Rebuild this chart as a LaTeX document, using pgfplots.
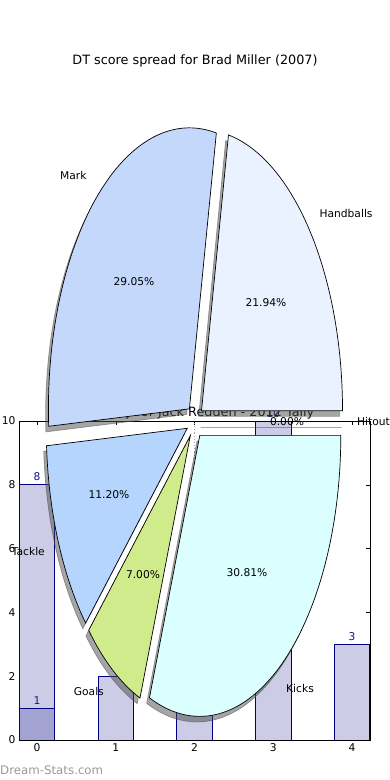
\documentclass[border=0pt]{standalone}
\usepackage{pgfplots}
\pgfplotsset{compat=1.18}
\usepackage{fontspec}
\setmainfont{DejaVu Sans}
\definecolor{cHand}{HTML}{EBF2FF}
\definecolor{cMark}{HTML}{C4D8FC}
\definecolor{cTack}{HTML}{B5D5FF}
\definecolor{cGoal}{HTML}{D0EB8C}
\definecolor{cKick}{HTML}{DBFFFF}
\definecolor{barfill}{RGB}{204,204,230}
\definecolor{bardark}{RGB}{163,163,209}
\definecolor{baredge}{RGB}{0,0,128}
\definecolor{barlabel}{RGB}{20,20,140}
\newcommand{\lfont}{\fontsize{10.7bp}{12bp}\selectfont}
\newcommand{\tfont}{\fontsize{12.8bp}{14bp}\selectfont}
\newcommand{\wfont}{\fontsize{11.8bp}{13bp}\selectfont}
% #1 cumulative start (%), #2 share (%), #3 path options, #4 shift
\newcommand{\drawslice}[4]{%
  \pgfmathsetmacro\sa{3.6*(#1)}%
  \pgfmathsetmacro\ea{3.6*(#1+#2)}%
  \pgfmathsetmacro\ma{(\sa+\ea)/2}%
  \pgfmathsetmacro\cx{195+8.46*cos(\ma)}%
  \pgfmathsetmacro\cy{358.5+16.86*sin(\ma)}%
  \path[#3] ([shift={#4}]axis cs:\cx,\cy) -- ++(\sa:141bp and 281bp)
     arc[start angle=\sa, end angle=\ea, x radius=141bp, y radius=281bp] -- cycle;
}
\begin{document}
\begin{tikzpicture}
\useasboundingbox (0,0) rectangle (390bp,780bp);
\begin{axis}[
  at={(19bp,40bp)}, anchor=south west,
  width=351bp, height=319bp, scale only axis,
  xmin=-0.23, xmax=4.23, ymin=0, ymax=10,
  ybar, bar shift=0pt, bar width=0.45,
  xtick={0,1,2,3,4}, ytick={0,2,4,6,8,10},
  tick align=inside, major tick length=4bp,
  tick style={black, line width=0.5bp},
  xtick pos=both, ytick pos=both,
  axis line style={line width=0.8bp},
  tick label style={font=\lfont},
  /pgf/number format/assume math mode=true,
  title={Stat tally for Jack Redden - 2012 Tally},
  every axis title/.style={at={(0.5,1)}, anchor=center, yshift=8bp, font=\tfont},
]
\draw[black!35, dotted, line width=1.2bp] (axis cs:2,0) -- (axis cs:2,10);
\addplot[draw=baredge, fill=barfill, line width=0.7bp,
  nodes near coords, nodes near coords style={font=\lfont, text=barlabel}]
  coordinates {(0,8) (1,2) (2,5) (3,10) (4,3)};
\addplot[draw=baredge, fill=bardark, line width=0.7bp,
  nodes near coords, nodes near coords style={font=\lfont, text=barlabel}]
  coordinates {(0,1)};
\end{axis}
\begin{axis}[
  at={(0,0)}, anchor=south west,
  width=390bp, height=780bp, scale only axis,
  xmin=0, xmax=390, ymin=0, ymax=780,
  hide axis, clip=false,
]
\pgfplotsextra{%
  \drawslice{0}{21.94}{fill=black!70, draw=black!70, line width=0.7bp, opacity=0.5}{(-2.8bp,-5.6bp)}
  \drawslice{21.94}{29.05}{fill=black!70, draw=black!70, line width=0.7bp, opacity=0.5}{(-2.8bp,-5.6bp)}
  \drawslice{50.99}{11.20}{fill=black!70, draw=black!70, line width=0.7bp, opacity=0.5}{(-2.8bp,-5.6bp)}
  \drawslice{62.19}{7.00}{fill=black!70, draw=black!70, line width=0.7bp, opacity=0.5}{(-2.8bp,-5.6bp)}
  \drawslice{69.19}{30.81}{fill=black!70, draw=black!70, line width=0.7bp, opacity=0.5}{(-2.8bp,-5.6bp)}
  \drawslice{100}{0}{draw=black!70, line width=0.7bp, opacity=0.5}{(-2.8bp,-5.6bp)}
  \drawslice{0}{21.94}{fill=cHand, draw=black, line width=0.7bp}{(0,0)}
  \drawslice{21.94}{29.05}{fill=cMark, draw=black, line width=0.7bp}{(0,0)}
  \drawslice{50.99}{11.20}{fill=cTack, draw=black, line width=0.7bp}{(0,0)}
  \drawslice{62.19}{7.00}{fill=cGoal, draw=black, line width=0.7bp}{(0,0)}
  \drawslice{69.19}{30.81}{fill=cKick, draw=black, line width=0.7bp}{(0,0)}
  \drawslice{100}{0}{draw=black, line width=0.7bp}{(0,0)}
}
\node[font=\tfont] at (axis cs:195,719) {DT score spread for Brad Miller (2007)};
\begin{scope}[every node/.style={font=\lfont, inner sep=0pt}]
\node[anchor=east] at (axis cs:86.7,604) {Mark};
\node[anchor=west] at (axis cs:319.3,566) {Handballs};
\node[anchor=east] at (axis cs:45,228) {Tackle};
\node[anchor=east] at (axis cs:104,88) {Goals};
\node[anchor=west] at (axis cs:286,91) {Kicks};
\node[anchor=west] at (axis cs:357,358) {Hitout};
\node at (axis cs:134,498) {29.05\%};
\node at (axis cs:266,477) {21.94\%};
\node at (axis cs:109,285) {11.20\%};
\node at (axis cs:143,205) {7.00\%};
\node at (axis cs:247,207) {30.81\%};
\node at (axis cs:287,358) {0.00\%};
\end{scope}
\node[anchor=west, inner sep=0pt, font=\wfont, text=black!40] at (axis cs:0,10) {Dream-Stats.com};
\end{axis}
\end{tikzpicture}
\end{document}
